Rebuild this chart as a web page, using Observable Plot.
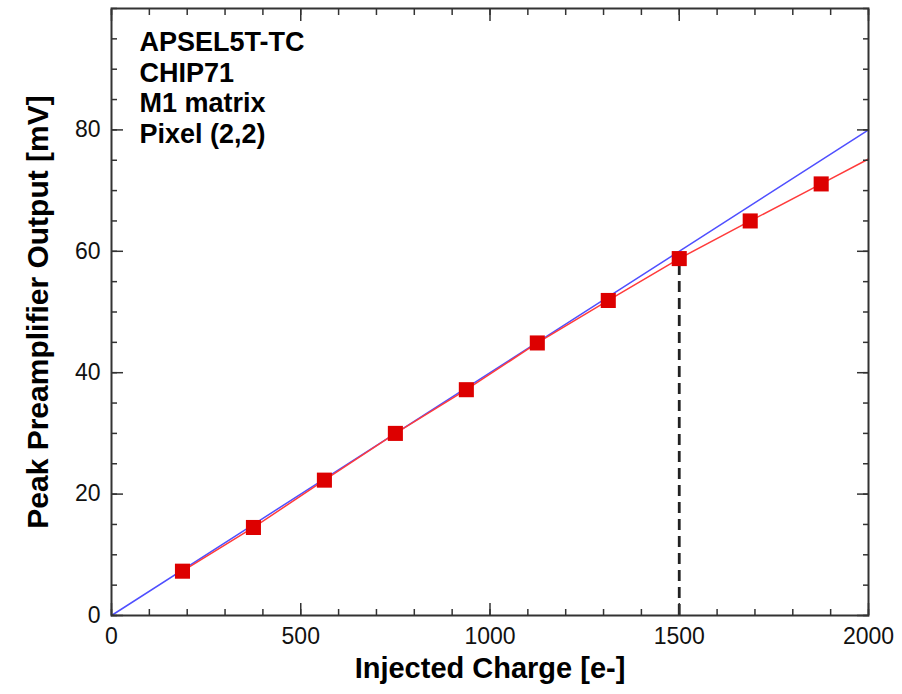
<!DOCTYPE html>
<html>
<head>
<meta charset="utf-8">
<script src="https://cdn.jsdelivr.net/npm/d3@7"></script>
<script src="https://cdn.jsdelivr.net/npm/@observablehq/plot@0.6"></script>
<style>
  html, body { margin: 0; padding: 0; background: #fff; }
  #chart svg { display: block; }
</style>
</head>
<body>
<div id="chart"></div>
<script>
// Measured points
const injectedCharge = [187.5, 375, 562.5, 750, 937.5, 1125, 1312.5, 1500, 1687.5, 1875];
const peakOutput     = [7.3, 14.5, 22.3, 30.0, 37.2, 44.9, 51.9, 58.8, 65.0, 71.1];
// Red curve extension to the right edge
const curveEndCharge = 2000;
const curveEndOutput = 75.2;
// Linear fit (blue)
const fitCharge = [0, 2000];
const fitOutput = [0, 80];
// Marker for the dashed line
const markCharge = 1500;
// Annotation lines
const infoLines = ["APSEL5T-TC", "CHIP71", "M1 matrix", "Pixel (2,2)"];
// Ticks
const xMajor = [0, 500, 1000, 1500, 2000];
const xMinor = d3.range(0, 2001, 100);
const yMajor = [0, 20, 40, 60, 80];
const yMinor = d3.range(0, 101, 5);
const xTitle = "Injected Charge [e-]";
const yTitle = "Peak Preamplifier Output [mV]";

const points = injectedCharge.map((x, i) => ({x, y: peakOutput[i]}));
const curve = [...points, {x: curveEndCharge, y: curveEndOutput}];
const fit = fitCharge.map((x, i) => ({x, y: fitOutput[i]}));
const markY = peakOutput[injectedCharge.indexOf(markCharge)];

const font = "'Liberation Sans', Arial, Helvetica, sans-serif";
const axisColor = "#333";
const fmt = d3.format("d");

const chart = Plot.plot({
  width: 902,
  height: 694,
  marginLeft: 111,
  marginRight: 34,
  marginTop: 8,
  marginBottom: 79,
  style: {fontFamily: font, background: "#fff"},
  x: {domain: [0, 2000]},
  y: {domain: [0, 100]},
  marks: [
    // dashed vertical marker
    Plot.ruleX([markCharge], {y1: 0, y2: markY, stroke: "#222", strokeWidth: 2.8, strokeDasharray: "11,6"}),
    // fit line
    Plot.line(fit, {x: "x", y: "y", stroke: "#4f4fff", strokeWidth: 1.5}),
    // curve through points
    Plot.line(curve, {x: "x", y: "y", stroke: "#ff3b3b", strokeWidth: 1.5}),
    Plot.dot(points, {x: "x", y: "y", symbol: "square", r: 8.5, fill: "#dd0000", stroke: "none"}),
    // inward ticks, bottom/top
    Plot.axisX(xMinor, {anchor: "bottom", tickSize: -6, fill: "none", stroke: axisColor, strokeWidth: 1.5, label: null}),
    Plot.axisX(xMajor, {anchor: "bottom", tickSize: -12, fill: "none", stroke: axisColor, strokeWidth: 1.5, label: null}),
    Plot.axisX(xMinor, {anchor: "top", tickSize: -6, fill: "none", stroke: axisColor, strokeWidth: 1.5, label: null}),
    Plot.axisX(xMajor, {anchor: "top", tickSize: -12, fill: "none", stroke: axisColor, strokeWidth: 1.5, label: null}),
    Plot.axisY(yMinor, {anchor: "left", tickSize: -6, fill: "none", stroke: axisColor, strokeWidth: 1.5, label: null}),
    Plot.axisY(yMajor, {anchor: "left", tickSize: -12, fill: "none", stroke: axisColor, strokeWidth: 1.5, label: null}),
    Plot.axisY(yMinor, {anchor: "right", tickSize: -6, fill: "none", stroke: axisColor, strokeWidth: 1.5, label: null}),
    Plot.axisY(yMajor, {anchor: "right", tickSize: -12, fill: "none", stroke: axisColor, strokeWidth: 1.5, label: null}),
    // tick labels
    Plot.axisX(xMajor, {anchor: "bottom", tickSize: 0, tickPadding: 12, fontSize: 23, fill: "#111", tickFormat: fmt, label: null}),
    Plot.axisY(yMajor, {anchor: "left", tickSize: 0, tickPadding: 11, fontSize: 23, fill: "#111", tickFormat: fmt, label: null}),
    Plot.frame({stroke: axisColor, strokeWidth: 2}),
    // axis titles
    Plot.text([xTitle], {text: d => d, frameAnchor: "bottom", dy: 62, fontSize: 29, fontWeight: "bold", fill: "#000"}),
    Plot.text([yTitle], {text: d => d, frameAnchor: "left", dx: -73, rotate: -90, textAnchor: "middle", fontSize: 30, fontWeight: "bold", fill: "#000"}),
    // annotation
    Plot.text([infoLines.join("\n")], {text: d => d, frameAnchor: "top-left", dx: 28, dy: 21, textAnchor: "start", lineAnchor: "top", lineHeight: 1.13, fontSize: 27, fontWeight: "bold", fill: "#000"})
  ]
});
document.getElementById("chart").append(chart);
</script>
</body>
</html>
